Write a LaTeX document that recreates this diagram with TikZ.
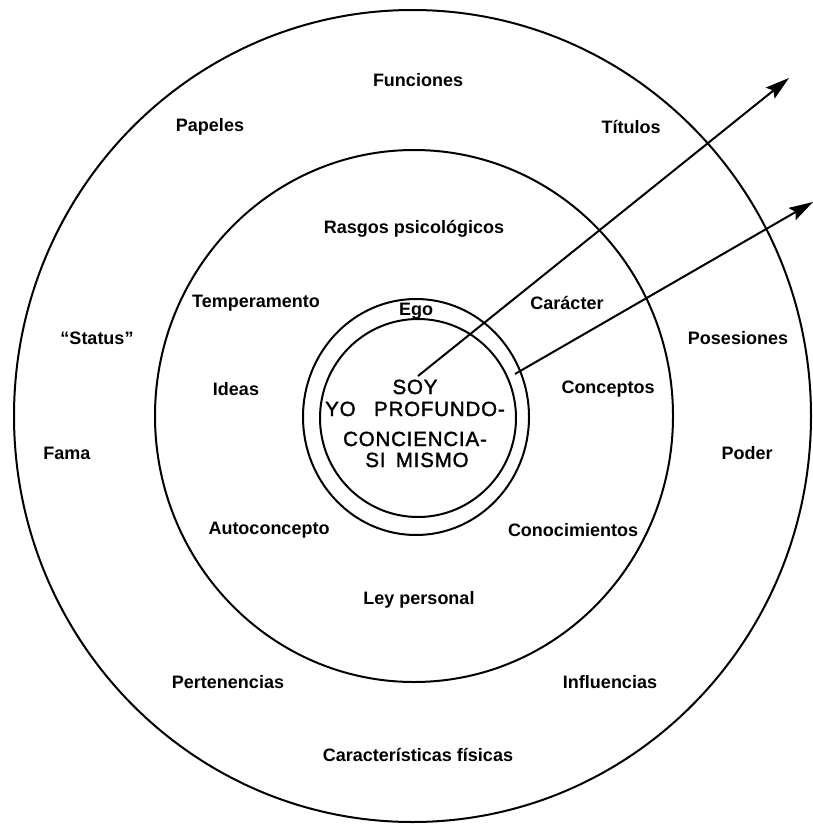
\documentclass[tikz,border=0pt]{standalone}
\usepackage{fontspec}
\setmainfont{Liberation Sans}
\newfontfamily\soyfont[LetterSpace=4,FakeBold=1.6]{Liberation Sans}
\usetikzlibrary{arrows.meta}
\begin{document}
\begin{tikzpicture}[x=1pt,y=-1pt,
  lbl/.style={font=\fontsize{18}{20}\selectfont\bfseries, inner sep=0pt},
  soy/.style={font=\fontsize{20.5}{22}\soyfont, inner sep=0pt, anchor=base},
  ring/.style={line width=2pt},
  arr/.style={line width=2pt,-{Stealth[length=24pt,width=14pt,inset=4pt]}}]
\useasboundingbox (0,0) rectangle (813,827);
\draw[ring] (412.5,416) ellipse [x radius=398.5pt, y radius=406pt];
\draw[ring] (414,416) ellipse [x radius=259pt, y radius=266pt];
\draw[ring] (416,417) ellipse [x radius=113pt, y radius=118pt];
\draw[ring] (418,418) ellipse [x radius=98pt, y radius=99pt];
% outer ring labels
\node[lbl] (funciones) at (418,80) {Funciones};
\node[lbl] (papeles) at (210,127) {Papeles};
\node[lbl] (titulos) at (631,127) {Títulos};
\node[lbl] (status) at (97,338) {“Status”};
\node[lbl] (posesiones) at (738,338) {Posesiones};
\node[lbl] (fama) at (67,453) {Fama};
\node[lbl] (poder) at (747,453) {Poder};
\node[lbl] (pertenencias) at (228,682) {Pertenencias};
\node[lbl] (influencias) at (610,682) {Influencias};
\node[lbl] (caract) at (418,755) {Características físicas};
% middle ring labels
\node[lbl] (rasgos) at (414,229) {Rasgos psicológicos};
\node[lbl] (temp) at (256,303) {Temperamento};
\node[lbl] (caracter) at (567,303) {Carácter};
\node[lbl] (ideas) at (236,389) {Ideas};
\node[lbl] (conceptos) at (608,389) {Conceptos};
\node[lbl] (autoc) at (269,530) {Autoconcepto};
\node[lbl] (conoc) at (573,530) {Conocimientos};
\node[lbl] (ley) at (419,600) {Ley personal};
% inner
\node[lbl] (ego) at (416,311) {Ego};
\node[soy] (soy1) at (415,394) {SOY};
\node[soy] (soy2) at (415,416) {YO\hspace{0.9em}PROFUNDO-};
\node[soy] (soy3) at (415,446) {CONCIENCIA-};
\node[soy] (soy4) at (417,467) {SI\hspace{0.5em}MISMO};
% arrows
\coordinate (s1) at (418,376);
\coordinate (e1) at (789,78);
\coordinate (s2) at (515,374);
\coordinate (e2) at (813,202);
\draw[arr] (s1) -- (e1);
\draw[arr] (s2) -- (e2);
\end{tikzpicture}
\end{document}
